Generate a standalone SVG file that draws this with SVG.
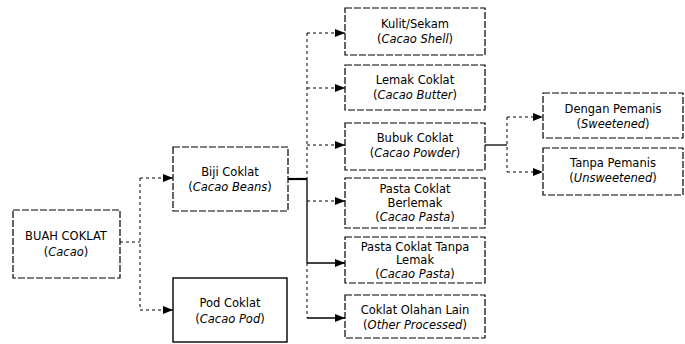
<svg xmlns="http://www.w3.org/2000/svg" width="685" height="344" viewBox="0 0 685 344">
<defs>
<marker id="ah" markerWidth="10" markerHeight="8" refX="10" refY="4" orient="auto" markerUnits="userSpaceOnUse">
<path d="M0,0 L10,4 L0,8 Z" fill="#000"/>
</marker>
<style>
.box{fill:#fff;stroke:#000;stroke-width:1.2;stroke-dasharray:7 2}
.solid{fill:#fff;stroke:#000;stroke-width:1.4}
.t{font-family:"DejaVu Sans","Liberation Sans",sans-serif;font-size:11.5px;fill:#000;text-anchor:middle}
.i{font-style:italic}
.d{fill:none;stroke:#000;stroke-width:1;stroke-dasharray:3 3}
.s{fill:none;stroke:#000;stroke-width:1.3}
.th{fill:none;stroke:#000;stroke-width:2.2}
</style>
</defs>
<rect width="685" height="344" fill="#fff"/>
<g id="connectors">
<path class="d" d="M120,242 H140"/>
<path class="d" d="M140,178 V310"/>
<path class="d" d="M140,178 H173" marker-end="url(#ah)"/>
<path class="d" d="M140,310 H173" marker-end="url(#ah)"/>
<path class="th" d="M288,179 H307"/>
<path class="d" d="M307,33 V179"/>
<path class="s" d="M307,179 V263"/>
<path class="d" d="M307,263 V318"/>
<path class="d" d="M307,33 H345" marker-end="url(#ah)"/>
<path class="d" d="M307,88 H345" marker-end="url(#ah)"/>
<path class="d" d="M307,145 H345" marker-end="url(#ah)"/>
<path class="d" d="M307,201 H345" marker-end="url(#ah)"/>
<path class="s" d="M307,263 H345" marker-end="url(#ah)"/>
<path class="s" d="M307,318 H345" marker-end="url(#ah)"/>
<path class="s" d="M485,145 H507"/>
<path class="d" d="M507,117 V172"/>
<path class="d" d="M507,117 H543" marker-end="url(#ah)"/>
<path class="d" d="M507,172 H543" marker-end="url(#ah)"/>
</g>
<g id="buah">
<rect class="box" x="13" y="210" width="107" height="68"/>
<text class="t" x="66" y="240">BUAH COKLAT</text>
<text class="t" x="66" y="256">(<tspan class="i">Cacao</tspan>)</text>
</g>
<g id="biji">
<rect class="box" x="173" y="147" width="115" height="64"/>
<text class="t" x="230" y="176">Biji Coklat</text>
<text class="t" x="230" y="191">(<tspan class="i">Cacao Beans</tspan>)</text>
</g>
<g id="pod">
<rect class="solid" x="173" y="278" width="114" height="64"/>
<text class="t" x="230" y="307">Pod Coklat</text>
<text class="t" x="230" y="323">(<tspan class="i">Cacao Pod</tspan>)</text>
</g>
<g id="kulit">
<rect class="box" x="345" y="8" width="140" height="47"/>
<text class="t" x="415" y="28">Kulit/Sekam</text>
<text class="t" x="415" y="43">(<tspan class="i">Cacao Shell</tspan>)</text>
</g>
<g id="lemak">
<rect class="box" x="345" y="65" width="140" height="45"/>
<text class="t" x="415" y="84">Lemak Coklat</text>
<text class="t" x="415" y="99">(<tspan class="i">Cacao Butter</tspan>)</text>
</g>
<g id="bubuk">
<rect class="box" x="345" y="123" width="140" height="47"/>
<text class="t" x="415" y="142">Bubuk Coklat</text>
<text class="t" x="415" y="157">(<tspan class="i">Cacao Powder</tspan>)</text>
</g>
<g id="pasta-berlemak">
<rect class="box" x="345" y="178" width="140" height="50"/>
<text class="t" x="415" y="193">Pasta Coklat</text>
<text class="t" x="415" y="207">Berlemak</text>
<text class="t" x="415" y="221">(<tspan class="i">Cacao Pasta</tspan>)</text>
</g>
<g id="pasta-tanpa">
<rect class="box" x="345" y="237" width="140" height="46"/>
<text class="t" x="415" y="251">Pasta Coklat Tanpa</text>
<text class="t" x="415" y="264">Lemak</text>
<text class="t" x="415" y="278">(<tspan class="i">Cacao Pasta</tspan>)</text>
</g>
<g id="olahan">
<rect class="box" x="345" y="295" width="140" height="43"/>
<text class="t" x="415" y="314">Coklat Olahan Lain</text>
<text class="t" x="415" y="329">(<tspan class="i">Other Processed</tspan>)</text>
</g>
<g id="dengan">
<rect class="box" x="543" y="93" width="140" height="45"/>
<text class="t" x="613" y="113">Dengan Pemanis</text>
<text class="t" x="613" y="128">(<tspan class="i">Sweetened</tspan>)</text>
</g>
<g id="tanpa">
<rect class="box" x="543" y="148" width="140" height="47"/>
<text class="t" x="613" y="167">Tanpa Pemanis</text>
<text class="t" x="613" y="182">(<tspan class="i">Unsweetened</tspan>)</text>
</g>
</svg>
